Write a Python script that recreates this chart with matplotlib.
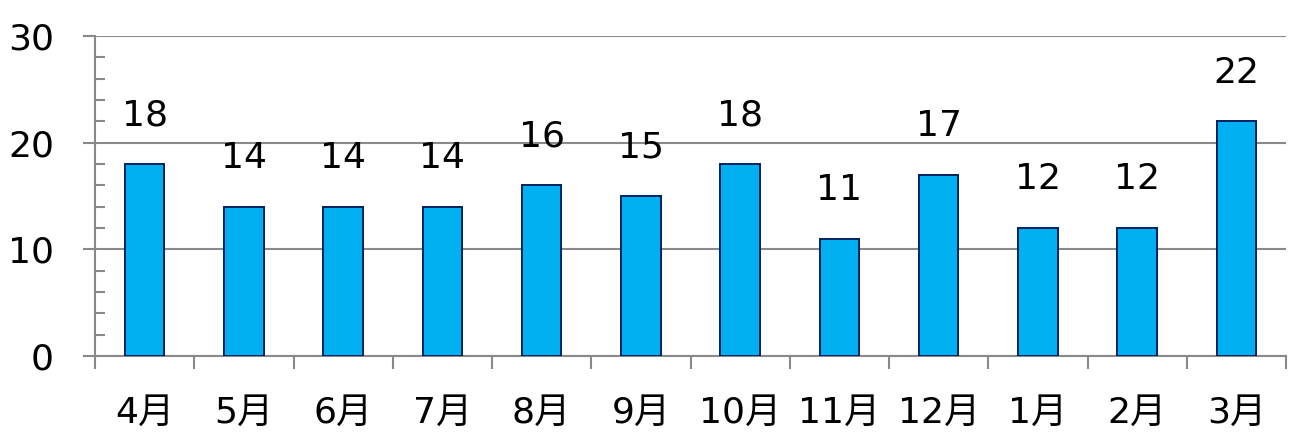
import matplotlib
matplotlib.use("Agg")
import matplotlib.pyplot as plt
from matplotlib.ticker import MultipleLocator

plt.rcParams['font.family'] = ['DejaVu Sans', 'Noto Sans CJK JP']

months = ["4月", "5月", "6月", "7月", "8月", "9月", "10月", "11月", "12月", "1月", "2月", "3月"]
values = [18, 14, 14, 14, 16, 15, 18, 11, 17, 12, 12, 22]

fig = plt.figure(figsize=(12.93, 4.34), dpi=100)
ax = fig.add_axes([95/1293, 1-356/434, (1286-95)/1293, (356-36)/434])

gray = "#898989"
x = list(range(len(months)))
ax.bar(x, values, width=0.4, color="#00B0F0", edgecolor="#002060", linewidth=1.4, zorder=3)

for xi, v in zip(x, values):
    ax.annotate(str(v), (xi, v), xytext=(0, 35), textcoords="offset points",
                ha="center", va="center", fontsize=26, color="black")

ax.set_xlim(-0.5, len(months) - 0.5)
ax.set_ylim(0, 30)
ax.yaxis.set_major_locator(MultipleLocator(10))
ax.yaxis.set_minor_locator(MultipleLocator(2))
ax.grid(axis="y", which="major", color=gray, linewidth=1.5, zorder=0)

# x ticks at category boundaries, labels at centers
ax.set_xticks([i - 0.5 for i in range(len(months) + 1)])
ax.set_xticklabels([])
ax.set_xticks(x, minor=True)
ax.set_xticklabels(months, minor=True, fontsize=26)
ax.tick_params(axis="x", which="major", direction="out", length=9, width=1.5, color=gray)
ax.tick_params(axis="x", which="minor", length=0, pad=29)

ax.tick_params(axis="y", which="major", direction="out", length=9, width=1.5, color=gray,
               labelsize=26, pad=20.5)
ax.tick_params(axis="y", which="minor", direction="in", length=7, width=1.5, color=gray)

for s in ["top", "right"]:
    ax.spines[s].set_visible(False)
for s in ["left", "bottom"]:
    ax.spines[s].set_color(gray)
    ax.spines[s].set_linewidth(1.5)

fig.savefig("out.png", dpi=100)
